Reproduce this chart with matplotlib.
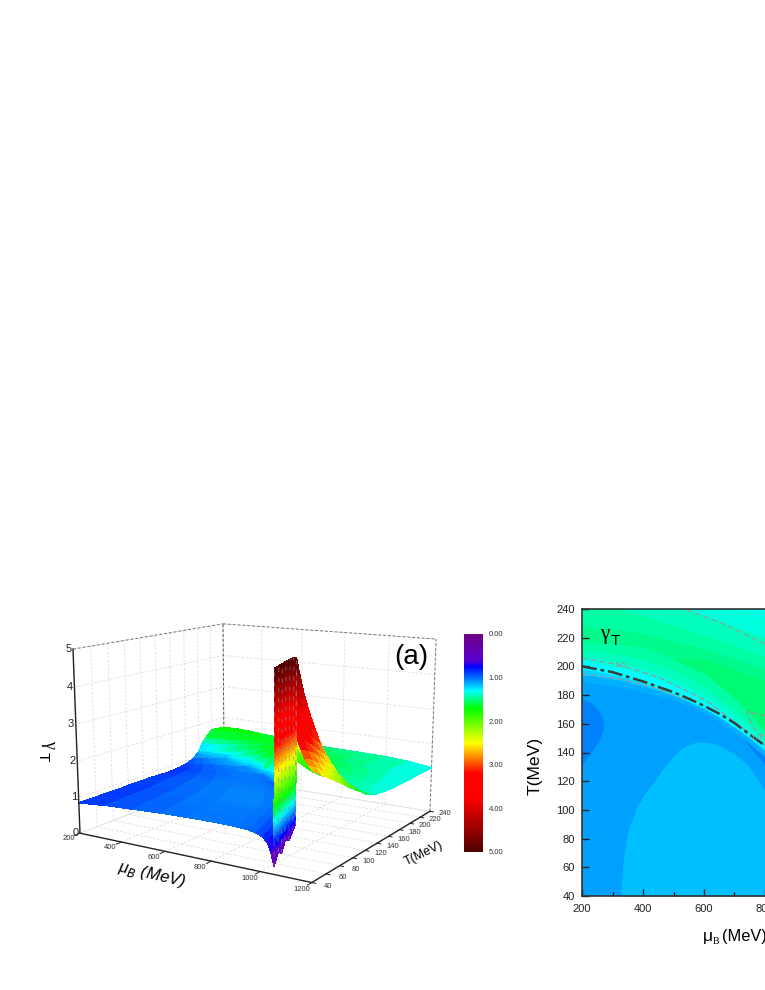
import numpy as np
import matplotlib
matplotlib.use('Agg')
import matplotlib.pyplot as plt
from matplotlib.colors import LinearSegmentedColormap, Normalize
from matplotlib import cm

plt.rcParams['font.family'] = ['Liberation Sans', 'DejaVu Sans']

W, H = 765, 990

# ---- panel (a) data ----
mu_ticks = [200, 400, 600, 800, 1000, 1200]
t_ticks = [40, 60, 80, 100, 120, 140, 160, 180, 200, 220, 240]
z_ticks = [0, 1, 2, 3, 4, 5]
bar_ticks = [0, 1, 2, 3, 4, 5]

t_rows = [40, 50, 60, 70, 80, 90, 100, 110, 120, 130, 140, 150, 160, 170, 180, 190, 200, 205, 210, 220, 230, 240]
# transition line mu_c(T), 200 once the line has left the plot
mu_c = [1055, 1042, 1026, 1011, 998, 985, 967, 940, 905, 865, 825, 765, 705, 625, 525, 390, 200, 200, 200, 200, 200, 200]

# fraction of the way from mu_c to 1200
right_cols = [0, .02, .04, .07, .10, .14, .19, .25, .32, .40, .50, .60, .70, .80, .90, 1.0]
right_z = [
    [5.0, 4.95, 4.9, 4.82, 4.74, 4.63, 4.5, 4.35, 4.15, 3.95, 3.65, 3.4, 3.15, 2.95, 2.8, 2.7],
    [5.0, 4.93, 4.85, 4.77, 4.7, 4.6, 4.45, 4.28, 4.08, 3.85, 3.55, 3.3, 3.05, 2.85, 2.68, 2.55],
    [5.0, 4.9, 4.8, 4.72, 4.63, 4.5, 4.35, 4.18, 3.97, 3.72, 3.42, 3.15, 2.92, 2.7, 2.52, 2.4],
    [5.0, 4.89, 4.78, 4.66, 4.54, 4.4, 4.22, 4.03, 3.8, 3.54, 3.25, 2.98, 2.75, 2.55, 2.38, 2.25],
    [5.0, 4.88, 4.76, 4.62, 4.47, 4.3, 4.1, 3.88, 3.62, 3.35, 3.05, 2.8, 2.58, 2.38, 2.22, 2.1],
    [5.0, 4.88, 4.76, 4.6, 4.42, 4.22, 4.0, 3.75, 3.48, 3.2, 2.9, 2.62, 2.4, 2.22, 2.07, 1.95],
    [4.95, 4.8, 4.65, 4.45, 4.25, 4.02, 3.78, 3.5, 3.22, 2.92, 2.62, 2.38, 2.18, 2.02, 1.9, 1.8],
    [4.5, 4.35, 4.2, 4.0, 3.8, 3.58, 3.33, 3.07, 2.8, 2.55, 2.3, 2.1, 1.94, 1.82, 1.72, 1.65],
    [3.9, 3.78, 3.66, 3.5, 3.32, 3.12, 2.9, 2.66, 2.42, 2.2, 2.0, 1.85, 1.73, 1.63, 1.56, 1.5],
    [3.1, 3.02, 2.93, 2.8, 2.67, 2.5, 2.33, 2.17, 2.0, 1.85, 1.7, 1.6, 1.52, 1.46, 1.42, 1.4],
    [2.6, 2.54, 2.47, 2.37, 2.27, 2.15, 2.02, 1.9, 1.77, 1.65, 1.55, 1.48, 1.44, 1.41, 1.38, 1.35],
    [2.2, 2.15, 2.1, 2.0, 1.95, 1.85, 1.75, 1.65, 1.56, 1.5, 1.47, 1.45, 1.44, 1.42, 1.38, 1.33],
    [1.9, 1.88, 1.85, 1.83, 1.8, 1.78, 1.75, 1.7, 1.63, 1.57, 1.52, 1.5, 1.48, 1.45, 1.4, 1.31],
    [1.25, 1.35, 1.45, 1.55, 1.65, 1.7, 1.72, 1.7, 1.65, 1.6, 1.55, 1.52, 1.49, 1.46, 1.4, 1.3],
    [1.3, 1.33, 1.38, 1.45, 1.52, 1.6, 1.67, 1.72, 1.72, 1.68, 1.62, 1.56, 1.5, 1.46, 1.4, 1.3],
    [1.25, 1.27, 1.3, 1.35, 1.4, 1.47, 1.55, 1.62, 1.68, 1.72, 1.68, 1.6, 1.52, 1.46, 1.4, 1.3],
    [1.15, 1.16, 1.18, 1.22, 1.28, 1.33, 1.42, 1.5, 1.58, 1.65, 1.7, 1.62, 1.53, 1.46, 1.4, 1.3],
    [1.38, 1.38, 1.39, 1.4, 1.42, 1.45, 1.5, 1.56, 1.62, 1.67, 1.68, 1.6, 1.52, 1.46, 1.4, 1.3],
    [1.5, 1.5, 1.51, 1.52, 1.54, 1.56, 1.6, 1.62, 1.65, 1.67, 1.66, 1.58, 1.51, 1.46, 1.4, 1.3],
    [1.72, 1.72, 1.72, 1.72, 1.72, 1.72, 1.72, 1.7, 1.67, 1.63, 1.58, 1.53, 1.5, 1.46, 1.4, 1.3],
    [1.7, 1.7, 1.7, 1.7, 1.7, 1.69, 1.67, 1.64, 1.6, 1.56, 1.52, 1.5, 1.48, 1.45, 1.4, 1.3],
    [1.68, 1.68, 1.68, 1.68, 1.67, 1.66, 1.63, 1.6, 1.56, 1.52, 1.49, 1.47, 1.46, 1.44, 1.39, 1.3],
]

# fraction of the way from 200 to mu_c, rows are t_rows up to 200
left_cols = [0, .15, .3, .45, .6, .72, .82, .88, .92, .95, .97, .985, 1.0]
left_z = [
    [.85, .92, .96, 1.0, 1.02, 1.03, 1.02, 1.0, .95, .88, .76, .55, .2],
    [.85, .92, .96, 1.0, 1.02, 1.03, 1.02, 1.0, .96, .9, .81, .68, .45],
    [.85, .92, .96, 1.0, 1.02, 1.03, 1.02, 1.0, .95, .88, .77, .6, .3],
    [.85, .92, .96, 1.0, 1.03, 1.04, 1.03, 1.01, .97, .91, .83, .7, .5],
    [.85, .92, .97, 1.01, 1.03, 1.04, 1.03, 1.01, .97, .91, .81, .67, .4],
    [.85, .92, .97, 1.01, 1.04, 1.05, 1.04, 1.02, .98, .93, .85, .75, .55],
    [.86, .92, .97, 1.02, 1.04, 1.05, 1.04, 1.03, .99, .94, .87, .78, .6],
    [.86, .93, .97, 1.02, 1.04, 1.05, 1.04, 1.03, 1.0, .96, .9, .83, .7],
    [.86, .93, .98, 1.02, 1.04, 1.05, 1.04, 1.03, 1.0, .97, .92, .87, .78],
    [.86, .93, .97, 1.02, 1.04, 1.04, 1.03, 1.03, 1.0, .97, .93, .89, .84],
    [.85, .92, .97, 1.01, 1.03, 1.03, 1.02, 1.02, 1.0, .97, .94, .91, .87],
    [.84, .91, .96, 1.0, 1.02, 1.02, 1.02, 1.02, 1.0, .98, .95, .93, .92],
    [.84, .9, .95, .99, 1.01, 1.02, 1.02, 1.02, 1.0, .99, .97, .97, 1.0],
    [.86, .9, .95, .99, 1.01, 1.03, 1.03, 1.04, 1.03, 1.03, 1.04, 1.07, 1.12],
    [.9, .94, .97, 1.01, 1.03, 1.05, 1.07, 1.09, 1.09, 1.1, 1.11, 1.15, 1.22],
    [.98, 1.02, 1.04, 1.08, 1.1, 1.13, 1.15, 1.17, 1.17, 1.18, 1.19, 1.22, 1.27],
    [1.15, 1.15, 1.15, 1.15, 1.15, 1.15, 1.15, 1.15, 1.15, 1.15, 1.15, 1.15, 1.15],
]

bar_colors = [(0.0, '#6e0082'), (0.12, '#5a00d2'), (0.15, '#0000ff'), (0.2, '#006eff'), (0.26, '#00ffff'),
              (0.34, '#00ff00'), (0.5, '#ffff00'), (0.64, '#ff0000'), (0.75, '#ff0000'), (1.0, '#500000')]

# ---- panel (b) data ----
line_mu = [200, 300, 400, 500, 550, 600, 650, 700, 750, 800, 850]
line_t = [200, 196, 189.5, 182, 177.5, 172.5, 167, 160.5, 152.5, 144.7, 135]

band_mu = [200, 250, 300, 350, 400, 450, 500, 550, 600, 650, 700, 750, 800, 850]
band_edges = [
    [189, 188, 186.5, 184.5, 182, 179.5, 176.5, 172.5, 168, 161.5, 154, 146, 137, 127],
    [194, 193, 191.5, 189.3, 186.5, 183.3, 179.5, 175.3, 170.5, 164.5, 157.5, 149.8, 141, 131],
    [198.5, 196.8, 194.5, 191.8, 188.5, 184.8, 180.5, 176, 171, 165, 158, 150.5, 142, 132],
    [204, 202.2, 200, 197.5, 194.5, 190.8, 186.5, 181.3, 175.5, 169, 161.5, 154, 146, 136],
    [207, 205.5, 203.5, 201.2, 198.5, 195, 191, 185.8, 180, 173.3, 165.5, 157, 148, 138],
    [211, 210.2, 209, 207.3, 205, 201.3, 197, 191.8, 186, 178.3, 170, 160.5, 150, 140],
    [217, 216.7, 216, 214.8, 213, 209.3, 205, 200, 195, 187, 178, 167, 155, 145],
]
band_colors = ['#00afff', '#00d7ff', '#00ffff', '#00ffdc', '#00ffbe', '#00ffa5', '#00fa8c']

deep_mu = [500, 550, 600, 650, 700, 750, 800, 850]
deep_low = [205, 200, 195, 187, 178, 167, 155, 145]
deep_high = [205, 205.5, 205, 202, 198, 194, 190, 180]
deep_color = '#00fa73'

upper_edges = [
    [228, 227, 226, 224.8, 223, 220.8, 218, 215.2, 212, 209.2, 206, 202.3, 198, 194],
    [246, 243.5, 241, 238.2, 235, 232.2, 229, 225.5, 222, 218.5, 215, 211, 207, 203],
    [260, 257.5, 255, 252.7, 250, 246.7, 243, 239, 235, 231.5, 228, 224, 220, 216],
    [280, 277.5, 275, 272.7, 270, 266.3, 262, 257, 252, 247.5, 243, 238, 233, 228],
]
upper_colors = ['#00ffa5', '#00ffbe', '#00ffdc', '#00ffeb']

lobe_mu = [327, 335, 350, 379, 405, 434, 470, 510, 545, 576, 615, 652, 700, 740, 775, 800, 850]
lobe_t = [40, 64, 85, 101.6, 111, 119, 130, 140, 145, 147.4, 147, 144.6, 139, 132, 122, 113, 100]
dark_left_t = [177, 175, 171, 166, 160, 154, 148, 140, 132]
dark_left_mu = [200, 228, 248, 264, 273, 267, 254, 230, 200]
dark_right_mu = [716, 751, 800, 850]
dark_right_low = [153, 143.5, 132, 120]
dark_right_high = [153, 165, 165, 165]

dash_up_mu = [200, 325, 456, 609, 740, 800]
dash_up_t = [205.8, 201, 192, 176, 155, 144.7]
dash_low_mu = [200, 325, 434, 543]
dash_low_t = [194.6, 191.2, 185.4, 176.5]
dash_top_mu = [543, 652, 800]
dash_top_t = [239.3, 230.7, 215.6]
dash_loop_mu = [800, 740, 762, 800]
dash_loop_t = [165.6, 168.6, 157, 150]


fig = plt.figure(figsize=(W / 100, H / 100), dpi=100)

# ---- surface panel ----
ax = fig.add_axes([58.1 / W, 52.6 / H, 395.1 / W, 395.1 / H], projection='3d', computed_zorder=False)
ax.set_xlim(200, 1200)
ax.set_ylim(40, 240)
ax.set_zlim(0, 5)
ax.view_init(elev=12.313, azim=-57.922)
ax.set_proj_type('persp', focal_length=0.497)
ax.set_box_aspect((1.435, 1.391, 1))

ax.patch.set_alpha(0)
for axis in (ax.xaxis, ax.yaxis, ax.zaxis):
    axis.set_pane_color((1, 1, 1, 0))
    axis.pane.set_edgecolor((1, 1, 1, 0))
    axis.line.set_color((1, 1, 1, 0))
    axis._axinfo['grid'].update(color='#dddddd', linewidth=0.6, linestyle=(0, (3, 2)))
    axis._axinfo['tick'].update(inward_factor=0, outward_factor=0)
ax.set_xticks(mu_ticks)
ax.set_yticks(t_ticks)
ax.set_zticks(z_ticks)
ax.set_xticklabels([])
ax.set_yticklabels([])
ax.set_zticklabels([])

cmap = LinearSegmentedColormap.from_list('gamma', bar_colors, N=512)
norm = Normalize(0, 5)

mu_c = np.array(mu_c, float)
t_rows = np.array(t_rows, float)
right_z = np.array(right_z)
left_z = np.array(left_z)
right_s = np.array(right_cols)
left_s = np.array(left_cols)

X_r = mu_c[:, None] + right_s[None, :] * (1200 - mu_c[:, None])
Y_r = np.tile(t_rows[:, None], (1, right_s.size))
surf_opts = dict(cmap=cmap, norm=norm, rstride=1, cstride=1, shade=False, linewidth=0.25, antialiased=False)
s1 = ax.plot_surface(X_r, Y_r, right_z, **surf_opts)

n_left = left_z.shape[0]
X_l = 200 + left_s[None, :] * (mu_c[:n_left, None] - 200)
Y_l = np.tile(t_rows[:n_left, None], (1, left_s.size))
s2 = ax.plot_surface(X_l, Y_l, left_z, **surf_opts)

# the jump sheet, cut by height so it shades through the colours
levels = np.arange(0, 5.01, 0.1)
Z_w = np.array([np.clip(levels, d, p) for d, p in zip(left_z[:16, -1], right_z[:16, 0])])
X_w = np.tile(mu_c[:16, None], (1, levels.size))
Y_w = np.tile(t_rows[:16, None], (1, levels.size))
s3 = ax.plot_surface(X_w, Y_w, Z_w, **surf_opts)
for s_ in (s1, s2, s3):
    s_.set_edgecolor('face')

# grey mesh texture on top of the surface
mesh_col = (0.5, 0.5, 0.5, 0.45)
for i in range(X_r.shape[0]):
    ax.plot(X_r[i], Y_r[i], right_z[i], color=mesh_col, lw=0.35, ls=(0, (1, 3)), zorder=1)
for i in range(X_l.shape[0] - 1):
    ax.plot(X_l[i], Y_l[i], left_z[i], color=mesh_col, lw=0.35, ls=(0, (1, 3)), zorder=1)
for i in range(8):
    ax.plot(X_w[i], Y_w[i], Z_w[i], color=(0.55, 0.55, 0.55, 0.7), lw=0.6, ls=(0, (5, 7)), zorder=1.5)

# box lines
ax.plot([200, 1200], [40, 40], [0, 0], color='#222222', lw=1.0, zorder=3)
ax.plot([1200, 1200], [40, 240], [0, 0], color='#222222', lw=1.0, zorder=3)
ax.plot([200, 200], [40, 40], [0, 5], color='#222222', lw=1.0, zorder=3)
ax.plot([200, 200], [40, 240], [5, 5], color='#777777', lw=0.7, ls=(0, (3, 2)), zorder=0.5)
ax.plot([200, 1200], [240, 240], [5, 5], color='#777777', lw=0.7, ls=(0, (3, 2)), zorder=0.5)
ax.plot([1200, 1200], [240, 240], [0, 5], color='#777777', lw=0.7, ls=(0, (3, 2)), zorder=0.5)
ax.plot([200, 200], [240, 240], [0, 5], color='#555555', lw=0.7, ls=(0, (3, 2)), zorder=0.5)

for m in mu_ticks:
    ax.plot([m, m], [40, 34], [0, 0], color='#222222', lw=0.7, zorder=3)
    ax.text(m - 5, 28, -0.05, str(m), fontsize=5.5, rotation=25, ha='center', va='center', color='#333333')
for t in t_ticks:
    ax.plot([1200, 1215], [t, t], [0, 0], color='#222222', lw=0.7, zorder=3)
    ax.text(1262, t, 0, str(t), fontsize=5.5, rotation=-15, ha='center', va='center', color='#333333')
for z in z_ticks:
    ax.text(192, 40, z, str(z), fontsize=8, ha='right', va='center', color='#222222')

# colour bar of the surface
cax = fig.add_axes([464 / W, (H - 852) / H, 19 / W, 218 / H])
cb = fig.colorbar(cm.ScalarMappable(norm=norm, cmap=cmap), cax=cax)
cb.ax.invert_yaxis()
cb.set_ticks(bar_ticks)
cb.set_ticklabels(['%.2f' % v for v in bar_ticks])
cb.ax.tick_params(length=0, labelsize=5.5, pad=4, colors='#333333')
cb.outline.set_visible(False)

fig.text(411 / W, 1 - 657 / H, '(a)', fontsize=20, ha='center', va='center')
fig.text(152 / W, 1 - 875 / H, 'μ$_{B}$ (MeV)', fontsize=12, style='italic', rotation=-13, ha='center', va='center')
fig.text(424 / W, 1 - 854 / H, 'T(MeV)', fontsize=9, rotation=26, ha='center', va='center')
fig.text(50 / W, 1 - 744 / H, 'γ', fontsize=13, family='Liberation Serif', rotation=270, ha='center', va='center')
fig.text(43 / W, 1 - 757 / H, 'T', fontsize=11, rotation=270, ha='center', va='center')

# ---- contour panel ----
ax2 = fig.add_axes([582 / W, (H - 896) / H, 305 / W, 287 / H])
ax2.set_xlim(200, 1200)
ax2.set_ylim(40, 240)
ax2.set_facecolor('#00a0ff')
ax2.fill_between(lobe_mu, 40, lobe_t, color='#00bfff', lw=0)
ax2.fill_betweenx(dark_left_t, 200, dark_left_mu, color='#0082ff', lw=0)
ax2.fill_between(dark_right_mu, dark_right_low, dark_right_high, color='#0082ff', lw=0)
for edge, col in zip(band_edges, band_colors):
    ax2.fill_between(band_mu, edge, 300, color=col, lw=0)
ax2.fill_between(deep_mu, deep_low, deep_high, color=deep_color, lw=0)
for edge, col in zip(upper_edges, upper_colors):
    ax2.fill_between(band_mu, edge, 300, color=col, lw=0)

dash_col = '#a59096'
for xs, ys in ((dash_up_mu, dash_up_t), (dash_low_mu, dash_low_t), (dash_top_mu, dash_top_t), (dash_loop_mu, dash_loop_t)):
    ax2.plot(xs, ys, color=dash_col, lw=0.8, ls=(0, (5, 3)))
ax2.plot(line_mu, line_t, color='#3c3c3c', lw=1.8, ls=(0, (6, 1.5, 1.5, 1.5)))
ax2.text(325, 200.5, '1.5', fontsize=6, color='#a0909a', ha='center', va='center')
ax2.text(770, 150, '1.0', fontsize=6, color='#a0909a', ha='center', va='center')

ax2.set_xticks([200, 400, 600, 800])
ax2.set_xticks([300, 500, 700], minor=True)
ax2.set_yticks(np.arange(40, 241, 20))
ax2.tick_params(which='major', direction='in', length=5, width=1, labelsize=8, colors='#222222')
ax2.tick_params(axis='x', which='major', pad=6)
ax2.tick_params(axis='y', which='major', pad=5)
ax2.tick_params(which='minor', direction='in', length=3, width=1)
for sp in ax2.spines.values():
    sp.set_linewidth(1.2)
    sp.set_color('#333333')

fig.text(535 / W, 1 - 766 / H, 'T(MeV)', fontsize=12.6, rotation=90, ha='center', va='center')
fig.text(703 / W, 1 - 937 / H, 'μ', fontsize=12.6, ha='left', va='center')
fig.text(713 / W, 1 - 942 / H, 'B', fontsize=7, family='Liberation Serif', ha='left', va='center')
fig.text(722 / W, 1 - 937 / H, '(MeV)', fontsize=11.8, ha='left', va='center')
fig.text(600 / W, 1 - 634 / H, 'γ', fontsize=15, family='Liberation Serif', ha='left', va='center')
fig.text(611 / W, 1 - 641 / H, 'T', fontsize=11, ha='left', va='center')

fig.savefig('out.png', dpi=100)
